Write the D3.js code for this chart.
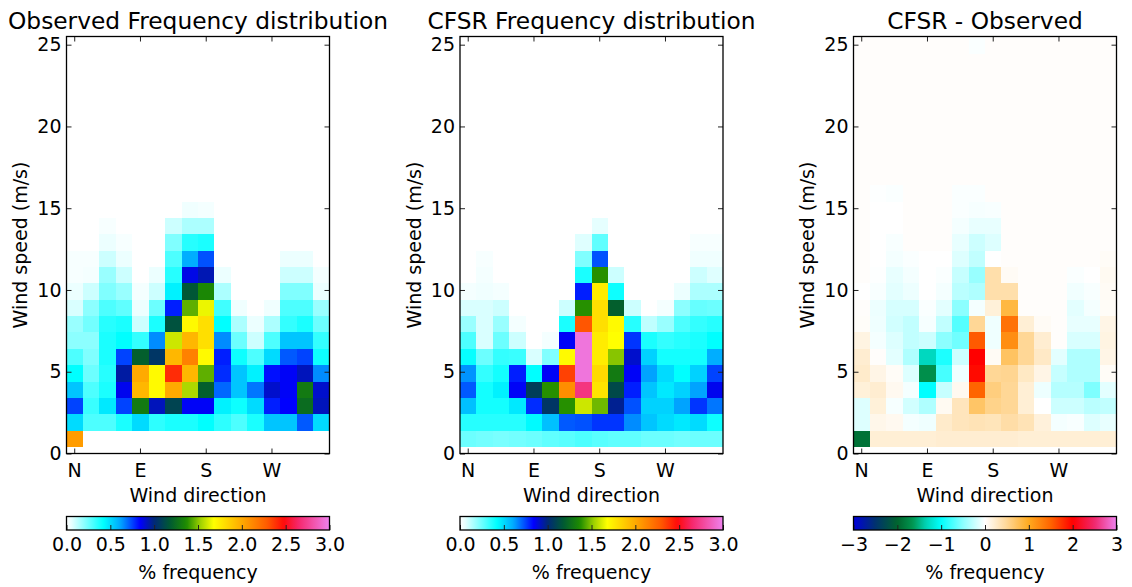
<!DOCTYPE html>
<html>
<head>
<meta charset="utf-8">
<title>Wind frequency distribution</title>
<script src="https://d3js.org/d3.v7.min.js"></script>
<style>
  body { margin: 0; background: #fff; }
  svg text { font-family: "DejaVu Sans", sans-serif; fill: #000; }
</style>
</head>
<body>
<svg id="chart" width="1132" height="587"></svg>
<script>

///////////////////////////////
// DATA

// 16 direction bins, ticks only on the cardinal points
var directions = ["N","NNE","NE","ENE","E","ESE","SE","SSE","S","SSW","SW","WSW","W","WNW","NW","NNW"];
var dirTicks = ["N","E","S","W"];

// lower edges of the 1 m/s speed bins
var speedEdges = [0.4,1.4,2.4,3.4,4.4,5.4,6.4,7.4,8.4,9.4,10.4,11.4,12.4,13.4,14.4,15.4,16.4,17.4,18.4,19.4,20.4,21.4,22.4,23.4,24.4,25.4];
var speedTicks = [0,5,10,15,20,25];

// % frequency, one row per speed bin (bottom row first), one value per direction
var obsFreq = [
  [2.05,0,0,0,0,0,0,0,0,0,0,0,0,0,0,0],
  [0.5,0.3,0.3,0.38,0.5,0.35,0.38,0.38,0.42,0.35,0.3,0.38,0.55,0.55,0.72,0.5],
  [0.75,0.33,0.47,0.75,1.3,0.92,1.1,0.85,0.85,0.45,0.4,0.5,0.8,0.84,1.25,0.92],
  [0.55,0.3,0.38,0.86,1.95,1.7,2.0,1.55,1.2,0.7,0.55,0.68,0.9,0.85,1.3,0.9],
  [0.42,0.25,0.36,0.95,2.0,1.7,2.4,1.95,1.45,0.78,0.55,0.45,0.82,0.85,0.92,0.65],
  [0.3,0.22,0.38,0.75,1.2,1.05,1.95,2.15,1.7,0.8,0.4,0.3,0.5,0.72,0.75,0.4],
  [0.2,0.2,0.38,0.42,0.34,0.65,1.6,1.95,1.8,0.65,0.25,0.1,0.3,0.55,0.55,0.34],
  [0.18,0.24,0.36,0.38,0.1,0.38,1.15,1.7,1.8,0.42,0.15,0.05,0.15,0.34,0.38,0.25],
  [0.08,0.2,0.3,0.27,0.05,0.25,0.8,1.45,1.65,0.32,0.04,0,0.04,0.3,0.3,0.18],
  [0.05,0.1,0.22,0.18,0.03,0.1,0.45,1.17,1.35,0.15,0,0,0,0.22,0.22,0.05],
  [0.02,0.03,0.18,0.1,0,0.05,0.36,0.87,0.93,0.05,0,0,0,0.1,0.1,0.03],
  [0.02,0.02,0.1,0.05,0,0,0.3,0.6,0.73,0,0,0,0,0.05,0.05,0],
  [0,0,0.05,0.02,0,0,0.22,0.36,0.38,0,0,0,0,0,0,0],
  [0,0,0.02,0,0,0,0.1,0.15,0.15,0,0,0,0,0,0,0],
  [0,0,0,0,0,0,0,0.04,0.03,0,0,0,0,0,0,0]
];

var cfsrFreq = [
  [0.25,0.24,0.23,0.24,0.25,0.27,0.28,0.3,0.28,0.27,0.27,0.25,0.25,0.24,0.25,0.25],
  [0.36,0.36,0.36,0.36,0.43,0.56,0.72,0.73,0.77,0.77,0.65,0.55,0.5,0.47,0.5,0.4],
  [0.56,0.39,0.39,0.47,0.78,1.05,1.38,1.6,1.47,0.97,0.73,0.52,0.52,0.62,0.77,0.68],
  [0.72,0.39,0.45,0.85,1.08,1.38,2.1,2.7,1.78,1.12,0.8,0.55,0.47,0.52,0.62,0.86],
  [0.64,0.34,0.39,0.8,0.42,0.85,2.35,2.95,1.82,1.3,0.85,0.62,0.5,0.42,0.52,0.75],
  [0.41,0.25,0.34,0.33,0.08,0.22,1.7,2.95,1.75,1.5,0.9,0.52,0.39,0.39,0.39,0.6],
  [0.3,0.08,0.25,0.1,0,0.03,0.85,2.95,1.75,1.68,0.77,0.38,0.34,0.36,0.38,0.42],
  [0.18,0.08,0.18,0.03,0,0,0.38,2.3,1.8,1.7,0.36,0.12,0.18,0.3,0.34,0.36],
  [0.08,0.08,0.1,0,0,0,0.1,1.38,1.8,1.2,0.1,0,0.03,0.2,0.26,0.25],
  [0.03,0.04,0.03,0,0,0,0,0.8,1.75,0.4,0,0,0,0.05,0.15,0.15],
  [0,0.03,0,0,0,0,0,0.38,1.38,0.1,0,0,0,0,0.1,0.07],
  [0,0.02,0,0,0,0,0,0.22,0.73,0,0,0,0,0,0.04,0.04],
  [0,0,0,0,0,0,0,0.07,0.27,0,0,0,0,0,0.02,0.02],
  [0,0,0,0,0,0,0,0,0.06,0,0,0,0,0,0,0]
];

var diffFreq = [
  [-1.9,0.2,0.2,0.2,0.2,0.22,0.22,0.22,0.22,0.22,0.2,0.2,0.2,0.2,0.2,0.2],
  [-0.15,0.1,0.07,-0.05,-0.07,0.25,0.32,0.35,0.33,0.42,0.35,0.17,-0.05,-0.03,-0.15,-0.1],
  [-0.15,0.18,-0.04,-0.2,-0.35,0.06,0.32,0.7,0.55,0.5,0.2,0,-0.22,-0.22,-0.3,-0.27],
  [0.18,0.22,0.07,-0.05,-1.0,-0.25,0.07,1.5,0.6,0.5,0.2,-0.08,-0.32,-0.32,-0.55,-0.12],
  [0.25,0.12,0.04,-0.15,-1.7,-0.75,-0.07,1.95,0.5,0.52,0.28,0.12,-0.25,-0.35,-0.35,0.04],
  [0.22,0.02,-0.12,-0.35,-1.3,-0.9,-0.22,2.0,0.05,0.72,0.5,0.27,-0.12,-0.35,-0.35,0.12],
  [0.14,-0.05,-0.15,-0.27,-0.22,-0.5,-0.6,1.55,-0.07,1.2,0.5,0.22,0.02,-0.17,-0.17,0.14],
  [0.03,-0.07,-0.2,-0.27,-0.04,-0.27,-0.7,0.5,-0.07,1.4,0.2,0.05,0.02,-0.1,-0.1,0.12],
  [0.02,-0.08,-0.18,-0.18,-0.02,-0.12,-0.5,-0.05,0.18,0.85,0.02,0.02,0.02,-0.12,-0.05,0.04],
  [0,-0.03,-0.12,-0.08,0,-0.05,-0.3,-0.35,0.4,0.4,0.02,0.02,0.02,-0.06,-0.03,0.05],
  [0.02,-0.01,-0.1,-0.05,0,-0.02,-0.25,-0.45,0.4,0.05,0.02,0.02,0.02,-0.02,0,0.06],
  [0.02,0,-0.05,-0.02,0,0,-0.15,-0.27,0,0.02,0.02,0.02,0.02,0.02,0.02,0.04],
  [0.02,0,-0.03,0.02,0.02,0.02,-0.1,-0.22,-0.15,0.02,0.02,0.02,0.02,0.02,0.02,0.02],
  [0.02,0,0,0.02,0.02,0.02,-0.05,-0.1,-0.1,0.02,0.02,0.02,0.02,0.02,0.02,0.02],
  [0.02,0,0,0.02,0.02,0.02,-0.02,-0.04,-0.03,0.02,0.02,0.02,0.02,0.02,0.02,0.02],
  [0.02,-0.01,-0.02,0.02,0.02,0.02,-0.02,-0.02,0.02,0.02,0.02,0.02,0.02,0.02,0.02,0.02],
  [0.02,0.02,0.02,0.02,0.02,0.02,0.02,0.02,0.02,0.02,0.02,0.02,0.02,0.02,0.02,0.02],
  [0.02,0.02,0.02,0.02,0.02,0.02,0.02,0.02,0.02,0.02,0.02,0.02,0.02,0.02,0.02,0.02],
  [0.02,0.02,0.02,0.02,0.02,0.02,0.02,0.02,0.02,0.02,0.02,0.02,0.02,0.02,0.02,0.02],
  [0.02,0.02,0.02,0.02,0.02,0.02,0.02,0.02,0.02,0.02,0.02,0.02,0.02,0.02,0.02,0.02],
  [0.02,0.02,0.02,0.02,0.02,0.02,0.02,0.02,0.02,0.02,0.02,0.02,0.02,0.02,0.02,0.02],
  [0.02,0.02,0.02,0.02,0.02,0.02,0.02,0.02,0.02,0.02,0.02,0.02,0.02,0.02,0.02,0.02],
  [0.02,0.02,0.02,0.02,0.02,0.02,0.02,0.02,0.02,0.02,0.02,0.02,0.02,0.02,0.02,0.02],
  [0.02,0.02,0.02,0.02,0.02,0.02,0.02,0.02,0.02,0.02,0.02,0.02,0.02,0.02,0.02,0.02],
  [0.02,0.02,0.02,0.02,0.02,0.02,0.02,-0.02,0.02,0.02,0.02,0.02,0.02,0.02,0.02,0.02]
];

// colour bar ticks
var freqTicks = [0,0.5,1.0,1.5,2.0,2.5,3.0];
var diffTicks = [-3,-2,-1,0,1,2,3];

// colour maps (value -> colour)
var freqStops  = [0,0.05,0.42,0.61,0.84,1.0,1.18,1.37,1.53,1.68,2.0,2.29,2.48,2.65,3.0];
var freqColors = ["#ffffff","#ecffff","#00ffff","#00aaff","#0000ff","#002878","#005a32","#1e8c00","#a0d200","#ffff00","#ffaa00","#ff5a00","#ff0a0a","#f5286e","#ee82ee"];
var diffStops  = [-3,-2.5,-2,-1.65,-1.35,-1,-0.5,0,0.5,1,1.5,2,2.5,3];
var diffColors = ["#0000dc","#00326e","#00642d","#009650","#00d2b4","#00ffff","#8cffff","#ffffff","#ffd796","#ffaa1e","#ff6400","#ff0000","#f0286e","#ee82ee"];

var titles = ["Observed Frequency distribution", "CFSR Frequency distribution", "CFSR - Observed"];

///////////////////////////////
// LAYOUT
var svg = d3.select("#chart");
var panelLeft = [66.5, 460, 853.5];
var plotTop = 36.5, plotW = 263, plotH = 417;
var cbTop = 516.5, cbH = 13.5;
var FONT = 19;

var freqColor = d3.scaleLinear().domain(freqStops).range(freqColors).clamp(true);
var diffColor = d3.scaleLinear().domain(diffStops).range(diffColors).clamp(true);

var x = d3.scaleBand().domain(directions).range([0, plotW]).padding(0);
var y = d3.scaleLinear().domain([0, 25.5]).range([plotH, 0]);

function style_axis(g) {
  g.select(".domain").remove();
  g.attr("font-family", "DejaVu Sans").attr("font-size", FONT);
  g.selectAll(".tick line").attr("stroke", "#222").attr("stroke-width", 1);
}

///////////////////////////////
// ONE PANEL
function draw_panel(i, data, color, skipZero, cbTicks, cbFormat) {
  var g = svg.append("g").attr("transform", "translate(" + panelLeft[i] + "," + plotTop + ")");

  var clipId = "clip" + i;
  g.append("clipPath").attr("id", clipId)
    .append("rect").attr("width", plotW).attr("height", plotH);

  // cells
  var cells = [];
  data.forEach(function(row, k) {
    row.forEach(function(v, j) {
      if (skipZero && v === 0) return;
      cells.push({ k: k, dir: directions[j], v: v });
    });
  });
  g.append("g").attr("clip-path", "url(#" + clipId + ")")
    .selectAll("rect").data(cells).enter().append("rect")
    .attr("x", function(d) { return x(d.dir); })
    .attr("width", x.bandwidth())
    .attr("y", function(d) { return y(speedEdges[d.k + 1]); })
    .attr("height", function(d) { return y(speedEdges[d.k]) - y(speedEdges[d.k + 1]); })
    .attr("fill", function(d) { return color(d.v); })
    .attr("shape-rendering", "crispEdges");

  // axes (ticks point inward on all four sides)
  g.append("g").attr("transform", "translate(0," + plotH + ")")
    .call(d3.axisBottom(x).tickValues(dirTicks).tickSizeInner(-5).tickSizeOuter(0).tickPadding(10))
    .call(style_axis);
  g.append("g")
    .call(d3.axisTop(x).tickValues(dirTicks).tickSizeInner(-5).tickSizeOuter(0).tickFormat(""))
    .call(style_axis);
  g.append("g")
    .call(d3.axisLeft(y).tickValues(speedTicks).tickSizeInner(-5).tickSizeOuter(0).tickPadding(5))
    .call(style_axis);
  g.append("g").attr("transform", "translate(" + plotW + ",0)")
    .call(d3.axisRight(y).tickValues(speedTicks).tickSizeInner(-5).tickSizeOuter(0).tickFormat(""))
    .call(style_axis);

  g.append("rect").attr("width", plotW).attr("height", plotH)
    .attr("fill", "none").attr("stroke", "#000").attr("stroke-width", 1.3);

  // texts
  g.append("text").attr("x", plotW / 2).attr("y", 29 - plotTop)
    .attr("text-anchor", "middle").attr("font-size", 23.3).text(titles[i]);
  g.append("text").attr("x", plotW / 2).attr("y", 502 - plotTop)
    .attr("text-anchor", "middle").attr("font-size", FONT).text("Wind direction");
  g.append("text").attr("transform", "translate(-39.5," + (plotH / 2) + ") rotate(-90)")
    .attr("text-anchor", "middle").attr("font-size", FONT).text("Wind speed (m/s)");

  // colour bar
  var dom = color.domain();
  var cbx = d3.scaleLinear().domain([dom[0], dom[dom.length - 1]]).range([0, plotW]);
  var gradId = "grad" + i;
  var grad = svg.append("defs").append("linearGradient").attr("id", gradId)
    .attr("x1", "0%").attr("x2", "100%").attr("y1", "0%").attr("y2", "0%");
  d3.range(0, 1.0001, 0.01).forEach(function(t) {
    grad.append("stop").attr("offset", (t * 100) + "%")
      .attr("stop-color", color(cbx.invert(t * plotW)));
  });
  var cb = svg.append("g").attr("transform", "translate(" + panelLeft[i] + "," + cbTop + ")");
  cb.append("rect").attr("width", plotW).attr("height", cbH).attr("fill", "url(#" + gradId + ")");
  cb.append("g").attr("transform", "translate(0," + cbH + ")")
    .call(d3.axisBottom(cbx).tickValues(cbTicks).tickFormat(cbFormat).tickSizeInner(-5).tickSizeOuter(0).tickPadding(8))
    .call(style_axis);
  cb.append("rect").attr("width", plotW).attr("height", cbH)
    .attr("fill", "none").attr("stroke", "#000").attr("stroke-width", 1.3);
  cb.append("text").attr("x", plotW / 2).attr("y", 579 - cbTop)
    .attr("text-anchor", "middle").attr("font-size", FONT).text("% frequency");
}

draw_panel(0, obsFreq, freqColor, true, freqTicks, d3.format(".1f"));
draw_panel(1, cfsrFreq, freqColor, true, freqTicks, d3.format(".1f"));
draw_panel(2, diffFreq, diffColor, false, diffTicks, d3.format("d"));

</script>
</body>
</html>
